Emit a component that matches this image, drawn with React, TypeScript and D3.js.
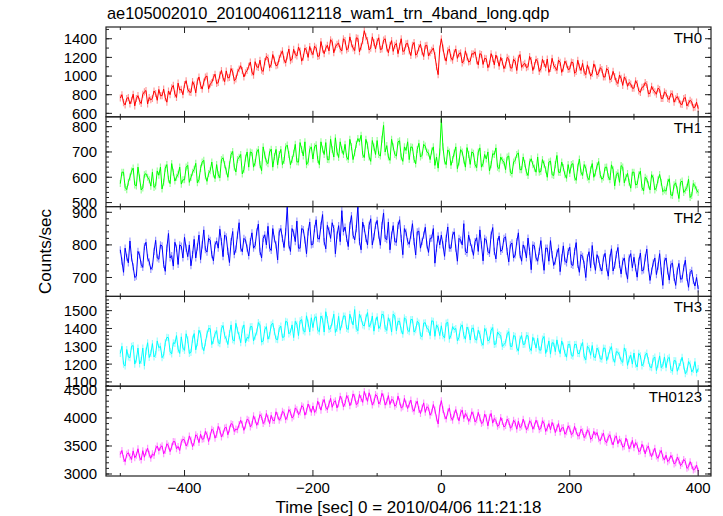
import React from "react";
import * as d3 from "d3";

// ---- data: light curves on 5-s bins (t = -500 .. 400 s) plus the
// readings half-way between them (t = -497.5 .. 397.5 s) ----
const binStart = -500;
const binWidth = 2.5;

const th0 = [
  765, 715, 760, 700, 805, 760, 730, 805, 845, 770,
  760, 813, 856, 789, 767, 840, 873, 806, 924, 857,
  910, 860, 825, 905, 945, 900, 935, 1000, 915, 985,
  920, 1010, 980, 1055, 985, 1045, 970, 1075, 1060, 1035,
  1105, 1042, 1154, 1091, 1063, 1155, 1192, 1124, 1171, 1118,
  1235, 1173, 1216, 1164, 1287, 1215, 1268, 1201, 1274, 1317,
  1230, 1301, 1217, 1288, 1299, 1270, 1366, 1312, 1353, 1269,
  1380, 1296, 1347, 1273, 1404, 1315, 1486, 1382, 1298, 1359,
  1370, 1285, 1385, 1300, 1330, 1265, 1350, 1320, 1265, 1345,
  1270, 1330, 1225, 1305, 1260, 1325, 1215, 1275, 1220, 1015,
  1400, 1205, 1270, 1195, 1250, 1190, 1250, 1165, 1205, 1160,
  1235, 1165, 1240, 1125, 1185, 1130, 1190, 1225, 1105, 1155,
  1115, 1183, 1085, 1158, 1191, 1094, 1137, 1100, 1166, 1112,
  1155, 1077, 1135, 1183, 1081, 1115, 1061, 1147, 1085, 1128,
  1075, 1144, 1048, 1097, 1136, 1015, 1064, 1028, 1087, 1031,
  1070, 990, 1060, 975, 995, 920, 975, 990, 890, 915,
  870, 920, 825, 885, 910, 815, 850, 805, 855, 760,
  815, 749, 808, 757, 746, 695, 769, 708, 722, 666,
  650,
];
const th0Mid = [
  800, 690, 770, 740, 680, 790, 705, 830, 700, 745,
  840, 740, 790, 860, 720, 800, 900, 770, 850, 800,
  950, 830, 940, 820, 990, 860, 990, 860, 930, 1020,
  930, 1060, 940, 980, 1080, 950, 1040, 1110, 990, 1060,
  1150, 1010, 1100, 1170, 1050, 1210, 1090, 1230, 1110, 1190,
  1270, 1140, 1290, 1180, 1230, 1310, 1160, 1300, 1200, 1260,
  1320, 1210, 1370, 1240, 1330, 1390, 1250, 1340, 1290, 1400,
  1280, 1420, 1300, 1410, 1260, 1380, 1420, 1280, 1420, 1290,
  1410, 1290, 1400, 1250, 1380, 1330, 1240, 1400, 1270, 1350,
  1220, 1360, 1240, 1340, 1210, 1330, 1250, 1300, 1100, 1290,
  1300, 1160, 1290, 1170, 1290, 1240, 1140, 1270, 1150, 1240,
  1260, 1120, 1230, 1190, 1090, 1240, 1120, 1180, 1200, 1080,
  1200, 1090, 1180, 1060, 1230, 1120, 1090, 1210, 1060, 1180,
  1050, 1180, 1090, 1040, 1190, 1090, 1170, 1040, 1160, 1070,
  1150, 1030, 1170, 1060, 1040, 1120, 1000, 1130, 1010, 1090,
  990, 1080, 960, 1050, 940, 1010, 900, 960, 930, 870,
  950, 840, 880, 930, 810, 890, 830, 870, 760, 830,
  760, 810, 720, 780, 700, 760, 680, 740, 660, 720,
];

const th1 = [
  575, 620, 551, 601, 636, 566, 597, 558, 614, 590,
  620, 566, 608, 554, 636, 592, 654, 585, 612, 573,
  590, 647, 599, 631, 578, 635, 667, 584, 626, 613,
  650, 598, 677, 625, 649, 702, 621, 679, 613, 676,
  640, 697, 658, 710, 626, 688, 654, 711, 682, 649,
  710, 666, 727, 649, 695, 661, 737, 684, 650, 711,
  672, 728, 650, 711, 737, 669, 710, 756, 678, 709,
  730, 670, 721, 697, 753, 766, 678, 727, 663, 719,
  745, 684, 805, 725, 667, 720, 684, 744, 663, 706,
  670, 718, 653, 734, 687, 723, 696, 704, 647, 636,
  830, 664, 708, 647, 696, 634, 709, 668, 717, 651,
  695, 638, 716, 654, 672, 625, 693, 716, 634, 667,
  630, 684, 613, 667, 696, 630, 654, 607, 673, 636,
  680, 623, 652, 600, 664, 607, 686, 619, 638, 596,
  615, 654, 588, 672, 607, 636, 590, 654, 618, 662,
  592, 639, 602, 649, 566, 618, 646, 578, 615, 557,
  620, 572, 624, 546, 593, 550, 597, 559, 611, 543,
  545, 594, 528, 578, 516, 585, 549, 592, 528, 566,
  540,
];
const th1Mid = [
  620, 560, 580, 625, 570, 640, 550, 610, 600, 565,
  560, 625, 640, 580, 650, 575, 620, 600, 640, 590,
  640, 580, 620, 655, 590, 660, 605, 615, 660, 595,
  610, 670, 650, 600, 690, 640, 670, 690, 630, 700,
  700, 640, 700, 650, 720, 660, 700, 640, 710, 690,
  650, 720, 690, 670, 730, 660, 710, 740, 660, 720,
  720, 670, 740, 690, 670, 750, 680, 700, 740, 690,
  680, 750, 670, 730, 740, 690, 750, 680, 745, 690,
  690, 750, 700, 680, 750, 690, 740, 680, 720, 740,
  720, 670, 710, 680, 730, 700, 670, 720, 680, 700,
  720, 650, 700, 670, 720, 660, 700, 640, 690, 700,
  650, 700, 640, 690, 700, 650, 690, 640, 680, 660,
  680, 620, 660, 690, 630, 680, 620, 660, 650, 620,
  620, 670, 630, 660, 610, 650, 620, 660, 610, 650,
  650, 600, 640, 620, 650, 600, 630, 600, 645, 610,
  600, 640, 590, 630, 610, 580, 640, 600, 580, 620,
  570, 610, 560, 600, 570, 610, 550, 590, 580, 550,
  580, 530, 570, 550, 580, 540, 560, 520, 575, 550,
];

const th2 = [
  785, 716, 762, 812, 733, 704, 769, 731, 808, 748,
  733, 814, 756, 797, 719, 835, 767, 808, 740, 796,
  823, 764, 736, 817, 794, 755, 846, 778, 814, 751,
  812, 848, 764, 825, 746, 841, 787, 868, 779, 815,
  766, 837, 798, 864, 760, 831, 857, 783, 818, 754,
  850, 792, 918, 780, 837, 873, 790, 847, 773, 870,
  802, 877, 818, 893, 788, 843, 868, 773, 859, 905,
  855, 795, 890, 815, 920, 785, 850, 800, 880, 825,
  875, 799, 898, 816, 785, 859, 808, 877, 770, 839,
  802, 865, 769, 842, 811, 854, 777, 821, 744, 828,
  830, 765, 855, 790, 840, 750, 815, 865, 775, 808,
  768, 822, 846, 751, 815, 774, 853, 757, 827, 786,
  825, 748, 806, 769, 837, 750, 788, 821, 724, 797,
  750, 813, 722, 790, 813, 737, 775, 718, 797, 745,
  793, 737, 807, 716, 765, 700, 779, 798, 722, 756,
  720, 774, 704, 788, 737, 792, 711, 760, 695, 773,
  762, 701, 775, 723, 787, 691, 745, 709, 773, 676,
  760, 692, 744, 676, 743, 696, 753, 670, 722, 674,
  665,
];
const th2Mid = [
  750, 790, 745, 760, 700, 780, 740, 795, 760, 725,
  780, 760, 800, 740, 790, 760, 735, 790, 800, 760,
  790, 800, 770, 760, 830, 800, 785, 820, 770, 800,
  790, 810, 830, 780, 810, 770, 830, 790, 820, 790,
  810, 790, 840, 780, 820, 800, 790, 850, 800, 840,
  820, 840, 800, 850, 810, 790, 850, 815, 840, 800,
  850, 820, 860, 810, 860, 820, 850, 830, 810, 840,
  820, 860, 830, 850, 810, 870, 820, 860, 800, 860,
  830, 860, 820, 870, 830, 810, 860, 820, 850, 810,
  830, 810, 840, 790, 830, 800, 820, 850, 790, 800,
  800, 820, 790, 830, 790, 820, 800, 780, 830, 790,
  810, 780, 800, 820, 780, 830, 780, 810, 780, 820,
  780, 800, 760, 810, 770, 800, 760, 780, 800, 760,
  780, 760, 790, 750, 770, 750, 790, 760, 750, 780,
  740, 780, 740, 770, 740, 760, 730, 750, 770, 730,
  760, 730, 760, 720, 770, 740, 750, 720, 760, 730,
  730, 750, 720, 760, 730, 720, 760, 735, 720, 750,
  720, 740, 700, 720, 695, 730, 700, 715, 690, 700,
];

const th3 = [
  1260, 1199, 1282, 1236, 1304, 1228, 1201, 1290, 1273, 1237,
  1315, 1254, 1292, 1236, 1320, 1348, 1257, 1316, 1284, 1353,
  1277, 1337, 1266, 1371, 1320, 1370, 1275, 1369, 1399, 1333,
  1388, 1314, 1416, 1341, 1372, 1337, 1429, 1360, 1396, 1319,
  1345, 1411, 1357, 1433, 1324, 1394, 1340, 1420, 1382, 1337,
  1413, 1352, 1436, 1380, 1349, 1424, 1443, 1387, 1471, 1381,
  1405, 1466, 1382, 1453, 1494, 1395, 1436, 1378, 1468, 1424,
  1470, 1395, 1446, 1506, 1387, 1458, 1414, 1489, 1424, 1385,
  1466, 1414, 1476, 1389, 1437, 1480, 1387, 1440, 1368, 1450,
  1382, 1450, 1393, 1431, 1354, 1432, 1395, 1443, 1356, 1404,
  1415, 1347, 1434, 1362, 1394, 1331, 1408, 1360, 1408, 1335,
  1402, 1335, 1368, 1306, 1384, 1337, 1405, 1313, 1366, 1299,
  1320, 1382, 1299, 1356, 1273, 1360, 1312, 1359, 1276, 1328,
  1345, 1278, 1355, 1288, 1256, 1318, 1336, 1259, 1301, 1239,
  1311, 1244, 1311, 1259, 1321, 1224, 1287, 1304, 1237, 1274,
  1227, 1289, 1246, 1298, 1210, 1267, 1219, 1291, 1193, 1250,
  1262, 1184, 1247, 1204, 1262, 1184, 1231, 1164, 1246, 1193,
  1180, 1238, 1160, 1218, 1186, 1238, 1146, 1214, 1156, 1214,
  1175,
];
const th3Mid = [
  1300, 1190, 1240, 1300, 1200, 1290, 1220, 1190, 1320, 1260,
  1240, 1330, 1300, 1250, 1350, 1270, 1320, 1360, 1260, 1290,
  1370, 1260, 1340, 1280, 1390, 1300, 1320, 1400, 1310, 1370,
  1320, 1400, 1360, 1310, 1420, 1330, 1390, 1320, 1420, 1350,
  1410, 1330, 1380, 1420, 1330, 1410, 1360, 1430, 1340, 1400,
  1350, 1440, 1370, 1420, 1440, 1360, 1450, 1380, 1430, 1460,
  1460, 1390, 1470, 1380, 1450, 1400, 1480, 1400, 1390, 1470,
  1400, 1480, 1420, 1400, 1480, 1420, 1460, 1410, 1470, 1440,
  1400, 1480, 1400, 1460, 1380, 1470, 1440, 1390, 1460, 1390,
  1450, 1380, 1440, 1360, 1430, 1400, 1360, 1440, 1420, 1360,
  1360, 1430, 1340, 1410, 1400, 1350, 1420, 1340, 1390, 1400,
  1340, 1390, 1320, 1400, 1330, 1390, 1310, 1380, 1360, 1310,
  1370, 1300, 1360, 1290, 1340, 1310, 1360, 1290, 1350, 1290,
  1280, 1340, 1260, 1330, 1320, 1270, 1290, 1330, 1260, 1310,
  1250, 1310, 1260, 1300, 1240, 1300, 1250, 1240, 1290, 1230,
  1290, 1220, 1280, 1230, 1270, 1250, 1210, 1270, 1230, 1200,
  1200, 1260, 1190, 1250, 1220, 1180, 1240, 1200, 1180, 1240,
  1230, 1170, 1220, 1160, 1210, 1190, 1160, 1200, 1170, 1150,
];

const th0123 = [
  3350, 3278, 3351, 3309, 3412, 3335, 3298, 3416, 3394, 3352,
  3360, 3451, 3412, 3503, 3419, 3500, 3486, 3577, 3493, 3569,
  3605, 3548, 3606, 3559, 3667, 3710, 3628, 3701, 3679, 3772,
  3705, 3783, 3716, 3834, 3802, 3885, 3803, 3886, 3889, 3872,
  3960, 3886, 3967, 3933, 4024, 3940, 3996, 4047, 3953, 4039,
  4005, 4095, 4020, 4105, 4035, 4150, 4105, 4195, 4120, 4180,
  4215, 4142, 4224, 4271, 4193, 4250, 4192, 4309, 4256, 4328,
  4260, 4349, 4288, 4372, 4261, 4350, 4474, 4298, 4357, 4286,
  4390, 4293, 4376, 4289, 4242, 4320, 4243, 4291, 4199, 4252,
  4250, 4166, 4247, 4153, 4179, 4100, 4181, 4102, 4143, 3894,
  4310, 4038, 4106, 4009, 4072, 4030, 4093, 3991, 4034, 3987,
  4055, 3969, 4003, 3922, 4006, 4015, 3909, 3953, 3877, 3936,
  3865, 3937, 3844, 3916, 3943, 3855, 3892, 3834, 3911, 3858,
  3900, 3815, 3905, 3820, 3790, 3855, 3820, 3750, 3830, 3755,
  3810, 3728, 3761, 3684, 3757, 3690, 3753, 3646, 3694, 3627,
  3675, 3590, 3660, 3585, 3640, 3540, 3575, 3495, 3565, 3505,
  3470, 3515, 3415, 3460, 3460, 3375, 3390, 3320, 3370, 3300,
  3335, 3250, 3280, 3200, 3245, 3185, 3225, 3125, 3150, 3090,
  3050,
];
const th0123Mid = [
  3420, 3220, 3380, 3260, 3290, 3450, 3250, 3300, 3460, 3280,
  3330, 3500, 3480, 3360, 3540, 3400, 3580, 3450, 3420, 3620,
  3500, 3680, 3490, 3700, 3560, 3620, 3760, 3580, 3800, 3640,
  3850, 3660, 3820, 3700, 3900, 3760, 3790, 3960, 3780, 3980,
  3840, 4040, 3870, 4060, 3900, 4080, 3900, 3960, 4110, 3960,
  4120, 3970, 4150, 4000, 4180, 4060, 4220, 4050, 4250, 4100,
  4100, 4300, 4140, 4330, 4150, 4350, 4280, 4180, 4390, 4200,
  4400, 4220, 4430, 4240, 4420, 4280, 4380, 4450, 4230, 4420,
  4250, 4440, 4230, 4400, 4330, 4210, 4390, 4180, 4350, 4170,
  4320, 4120, 4300, 4080, 4270, 4200, 4050, 4240, 4000, 4180,
  4150, 3980, 4180, 3960, 4150, 3950, 4140, 4080, 3940, 4110,
  3930, 4100, 3900, 4070, 3860, 4080, 3990, 3850, 4010, 3840,
  3980, 3820, 3960, 3800, 3830, 3980, 3790, 3950, 3800, 3960,
  3790, 3950, 3760, 3900, 3920, 3740, 3900, 3820, 3710, 3860,
  3700, 3850, 3680, 3800, 3650, 3790, 3620, 3760, 3740, 3590,
  3730, 3560, 3700, 3520, 3680, 3620, 3480, 3640, 3450, 3600,
  3560, 3400, 3530, 3360, 3500, 3310, 3460, 3280, 3420, 3250,
  3220, 3330, 3180, 3300, 3150, 3260, 3100, 3220, 3070, 3160,
];

const seriesNames = ["TH0", "TH1", "TH2", "TH3", "TH0123"];
const seriesMain = [th0, th1, th2, th3, th0123];
const seriesMid = [th0Mid, th1Mid, th2Mid, th3Mid, th0123Mid];
const seriesErrors = [38, 14, 11, 20, 62];
const seriesColors = ["#ff0000", "#00ff00", "#0000ff", "#00ffff", "#ff00ff"];

const yDomains: [number, number][] = [
  [563, 1526],
  [484, 839],
  [642, 917.5],
  [1076, 1580],
  [2964, 4568],
];
const yMajorStep = [200, 100, 100, 100, 500];
const yMinorStep = [100, 20, 20, 20, 100];

const xDomain: [number, number] = [-522.3, 420];
const xMajorTicks = [-400, -200, 0, 200, 400];
const xMinorTicks = [-500, -400, -300, -200, -100, 0, 100, 200, 300, 400];

const titleText = "ae105002010_20100406112118_wam1_trn_4band_long.qdp";
const xLabel = "Time [sec] 0 = 2010/04/06 11:21:18";
const yLabel = "Counts/sec";

// ---- layout ----
const W = 723;
const H = 516;
const left = 106;
const right = 711;
const top = 27;
const bottom = 476;
const FONT = "'Liberation Sans', Arial, Helvetica, sans-serif";
const AXIS = "#222";

function interleave(a: number[], b: number[]): number[] {
  return a.flatMap((v, k) => (k < b.length ? [v, b[k]] : [v]));
}

export default function App() {
  const n = seriesMain.length;
  const ph = (bottom - top) / n;
  const x = d3.scaleLinear().domain(xDomain).range([left, right]);

  return (
    <div style={{ position: "fixed", left: 0, top: 0 }}>
      <svg width={W} height={H} style={{ display: "block", background: "#fff" }}>
        <defs>
          {seriesMain.map((_, i) => (
            <clipPath id={`clip${i}`} key={i}>
              <rect x={left} y={top + i * ph} width={right - left} height={ph} />
            </clipPath>
          ))}
        </defs>
        <text x={107} y={19} fontFamily={FONT} fontSize={16.4} fill="#000">
          {titleText}
        </text>
        {seriesMain.map((main, i) => {
          const vals = interleave(main, seriesMid[i]);
          const y0 = top + i * ph;
          const y1 = y0 + ph;
          const y = d3.scaleLinear().domain(yDomains[i]).range([y1, y0]);
          const t = (k: number) => binStart + k * binWidth;
          const line = d3
            .line<number>()
            .x((_, k) => x(t(k)))
            .y((v) => y(v));
          const err = seriesErrors[i];
          const majors = d3.range(
            Math.ceil(yDomains[i][0] / yMajorStep[i]) * yMajorStep[i],
            yDomains[i][1] + 0.001,
            yMajorStep[i]
          );
          const minors = d3.range(
            Math.ceil(yDomains[i][0] / yMinorStep[i]) * yMinorStep[i],
            yDomains[i][1] + 0.001,
            yMinorStep[i]
          );
          return (
            <g key={i}>
              <g clipPath={`url(#clip${i})`}>
                {vals.map((v, k) => (
                  <line
                    key={k}
                    x1={x(t(k))}
                    x2={x(t(k))}
                    y1={y(v - err)}
                    y2={y(v + err)}
                    stroke={seriesColors[i]}
                    strokeOpacity={0.4}
                    strokeWidth={1.2}
                  />
                ))}
                <path d={line(vals) || ""} fill="none" stroke={seriesColors[i]} strokeWidth={1} />
              </g>
              {minors.map((v) => (
                <g key={"m" + v}>
                  <line x1={left} x2={left + 3} y1={y(v)} y2={y(v)} stroke={AXIS} strokeWidth={1} />
                  <line x1={right} x2={right - 3} y1={y(v)} y2={y(v)} stroke={AXIS} strokeWidth={1} />
                </g>
              ))}
              {majors.map((v) => (
                <g key={"M" + v}>
                  <line x1={left} x2={left + 6} y1={y(v)} y2={y(v)} stroke={AXIS} strokeWidth={1} />
                  <line x1={right} x2={right - 6} y1={y(v)} y2={y(v)} stroke={AXIS} strokeWidth={1} />
                  <text
                    x={left - 9}
                    y={y(v)}
                    dy="0.36em"
                    textAnchor="end"
                    fontFamily={FONT}
                    fontSize={15}
                    fill="#000"
                  >
                    {v}
                  </text>
                </g>
              ))}
              {xMinorTicks.map((v) => {
                const len = xMajorTicks.includes(v) ? 6 : 3;
                return (
                  <g key={"x" + v}>
                    <line x1={x(v)} x2={x(v)} y1={y0} y2={y0 + len} stroke={AXIS} strokeWidth={1} />
                    <line x1={x(v)} x2={x(v)} y1={y1} y2={y1 - len} stroke={AXIS} strokeWidth={1} />
                  </g>
                );
              })}
              <rect
                x={left}
                y={y0}
                width={right - left}
                height={ph}
                fill="none"
                stroke={AXIS}
                strokeWidth={1.2}
              />
              <text
                x={702}
                y={y0 + 16}
                textAnchor="end"
                fontFamily={FONT}
                fontSize={15}
                fill="#000"
              >
                {seriesNames[i]}
              </text>
            </g>
          );
        })}
        {xMajorTicks.map((v) => (
          <text
            key={v}
            x={x(v)}
            y={493}
            textAnchor="middle"
            fontFamily={FONT}
            fontSize={15}
            fill="#000"
          >
            {v < 0 ? "\u2212" + Math.abs(v) : String(v)}
          </text>
        ))}
        <text
          x={(left + right) / 2}
          y={513}
          textAnchor="middle"
          fontFamily={FONT}
          fontSize={17}
          fill="#000"
        >
          {xLabel}
        </text>
        <text
          transform={`translate(51, ${(top + bottom) / 2}) rotate(-90)`}
          textAnchor="middle"
          fontFamily={FONT}
          fontSize={17}
          fill="#000"
        >
          {yLabel}
        </text>
      </svg>
    </div>
  );
}
